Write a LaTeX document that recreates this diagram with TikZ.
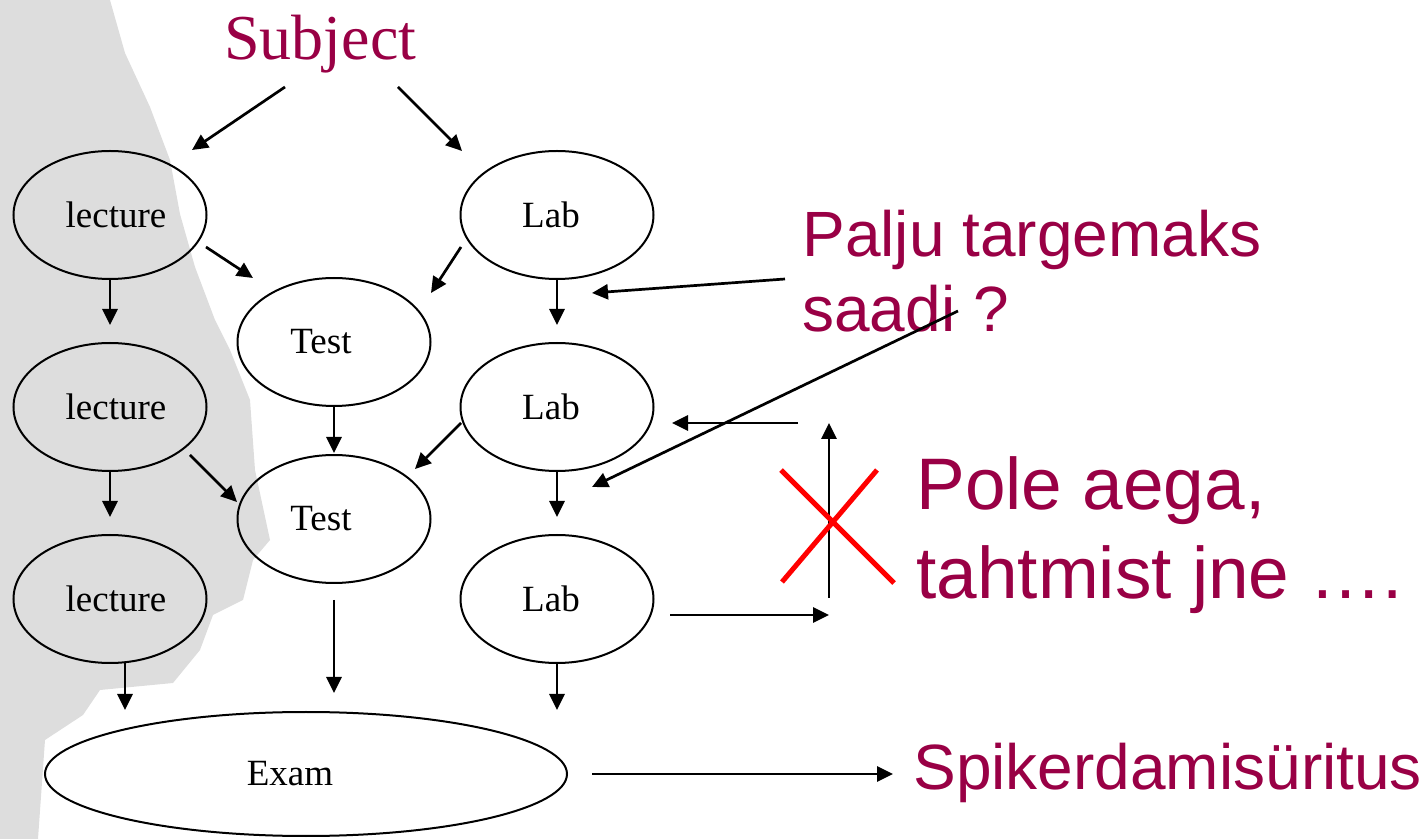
\documentclass[tikz,border=0pt]{standalone}
\usepackage{fontspec}
\setmainfont{Liberation Serif}
\newfontfamily\arialf{Liberation Sans}
\usetikzlibrary{arrows.meta,shapes.geometric,calc}
\definecolor{maroon}{RGB}{153,0,69}
\definecolor{bggrey}{RGB}{221,221,221}
\begin{document}
\begin{tikzpicture}[x=0.5pt,y=-0.5pt,
  oval/.style={ellipse, draw, line width=1pt, minimum width=96.5pt, minimum height=64pt, inner sep=0pt},
  bigoval/.style={ellipse, draw, line width=1pt, minimum width=261pt, minimum height=62pt, inner sep=0pt},
  arr/.style={line width=1.35pt, -{Triangle[length=8pt,width=7.5pt]}},
  ntext/.style={font=\fontsize{18.5}{22}\selectfont},
  title/.style={font=\fontsize{32}{38}\selectfont, text=maroon, inner sep=0pt},
  remark/.style={font=\arialf\fontsize{32}{37.5}\selectfont, text=maroon, inner sep=0pt, align=left},
  bigremark/.style={font=\arialf\fontsize{36.5}{44.5}\selectfont, text=maroon, inner sep=0pt, align=left},
  cross/.style={draw=red, line width=2.5pt}
]
\useasboundingbox (0,0) rectangle (1426,839);
% background texture
\fill[bggrey] (0,0) -- (110,0) -- (125,53) -- (150,107) -- (170,160) -- (180,214) -- (195,267)
  -- (215,320) -- (230,350) -- (250,400) -- (255,470) -- (270,540) -- (253,560) -- (243,600)
  -- (213,615) -- (200,650) -- (173,683) -- (100,690) -- (83,715) -- (45,740) -- (38,839) -- (0,839) -- cycle;

% title
\node[title, anchor=base west] (subj) at (224,60) {Subject};

% ellipses
\node[oval, label={[ntext,xshift=3pt]center:lecture}] (lec1) at (110,215) {};
\node[oval, label={[ntext,xshift=3pt]center:lecture}] (lec2) at (110,407) {};
\node[oval, label={[ntext,xshift=3pt]center:lecture}] (lec3) at (110,599) {};
\node[oval, label={[ntext,xshift=-6.5pt]center:Test}] (test1) at (334,342) {};
\node[oval, label={[ntext,xshift=-6.5pt]center:Test}] (test2) at (334,519) {};
\node[oval, label={[ntext,xshift=-3pt]center:Lab}] (lab1) at (557,215) {};
\node[oval, label={[ntext,xshift=-3pt]center:Lab}] (lab2) at (557,407) {};
\node[oval, label={[ntext,xshift=-3pt]center:Lab}] (lab3) at (557,599) {};
\node[bigoval, label={[ntext,xshift=-8pt]center:Exam}] (exam) at (306,774) {};

% remarks (base anchor = baseline of the last line)
\node[remark, anchor=base west] (palju) at (802,332) {Palju targemaks\\saadi ?};
\node[bigremark, anchor=base west] (pole) at (916,599) {Pole aega,\\tahtmist jne ….};
\node[remark, anchor=base west] (spik) at (913,790) {Spikerdamisüritus};

\coordinate (btop) at (829,423);
\coordinate (bbot) at (829,598);
\coordinate (xc) at (830,526);

% arrows
\draw[arr] ($(subj.base west)+(61,27)$) -- ($(lec1)+(82,-65)$);
\draw[arr] ($(subj.base west)+(174,27)$) -- ($(lab1)+(-95,-64)$);
\draw[arr] ($(lec1)+(96,32)$) -- ($(test1)+(-81,-64)$);
\draw[arr] ($(lab1)+(-96,32)$) -- ($(test1)+(97,-49)$);
\draw[arr] (lec1.south) -- ($(lec2)+(0,-82)$);
\draw[arr] (test1.south) -- ($(test2)+(0,-66)$);
\draw[arr] (lab1.south) -- ($(lab2)+(0,-82)$);
\draw[arr] ($(palju.base west)+(-17,-53)$) -- ($(lab1)+(35,78)$);
\draw[arr] ($(lec2)+(80,48)$) -- ($(test2)+(-97,-17)$);
\draw[arr] ($(lab2)+(-96,16)$) -- ($(test2)+(81,-50)$);
\draw[arr] (lec2.south) -- ($(lec3)+(0,-82)$);
\draw[arr] (lab2.south) -- ($(lab3)+(0,-82)$);
\draw[arr] ($(palju.base west)+(156,-21)$) -- ($(lab2)+(35,80)$);
\draw[arr] ($(btop)+(-31,0)$) -- ($(lab2)+(115,16)$);
\draw[arr] (bbot) -- (btop);
\draw[arr] ($(lab3)+(113,16)$) -- ($(bbot)+(0,17)$);
\draw[cross] ($(xc)+(-49,-56)$) -- ($(xc)+(64,57)$);
\draw[cross] ($(xc)+(47,-56)$) -- ($(xc)+(-48,56)$);
\draw[arr] ($(lec3)+(15,64)$) -- ($(exam)+(-181,-64)$);
\draw[arr] ($(test2)+(0,81)$) -- ($(exam)+(28,-81)$);
\draw[arr] (lab3.south) -- ($(exam)+(251,-64)$);
\draw[arr] ($(exam)+(286,0)$) -- ($(spik.base west)+(-20,-16)$);
\end{tikzpicture}
\end{document}
